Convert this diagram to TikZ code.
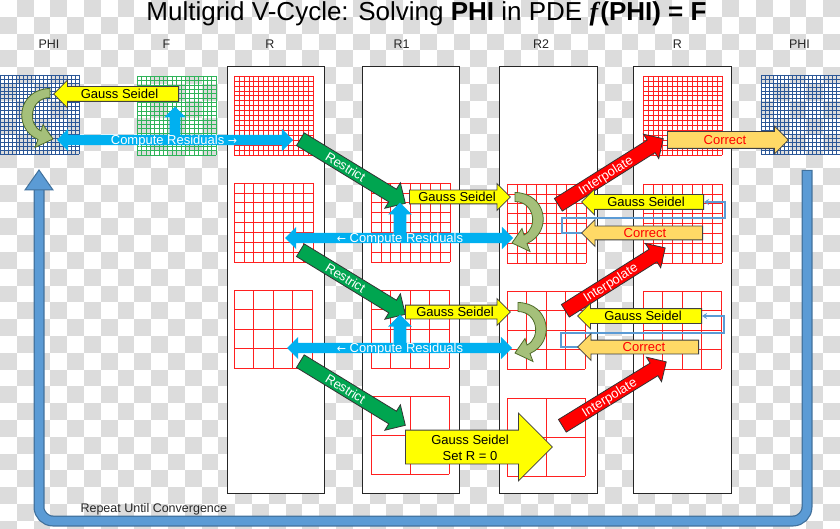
\documentclass[tikz,border=0pt]{standalone}
\usepackage{fontspec}
\setmainfont{Liberation Sans}
\newfontfamily\serifbi{Liberation Serif}
\newfontfamily\dejavu{DejaVu Sans}
\usetikzlibrary{shapes.arrows,arrows.meta,calc}
\definecolor{checkgray}{HTML}{DCDCDC}
\definecolor{gsyellow}{HTML}{FFFF00}
\definecolor{corange}{HTML}{FFD966}
\definecolor{crblue}{HTML}{00B0F0}
\definecolor{rgreen}{HTML}{00A550}
\definecolor{ired}{HTML}{FF0000}
\definecolor{phiblue}{HTML}{2B5797}
\definecolor{fgreen}{HTML}{30B45A}
\definecolor{gridred}{HTML}{FF2020}
\definecolor{loopblue}{HTML}{5B9BD5}
\definecolor{loopedge}{HTML}{41719C}
\definecolor{curvefill}{HTML}{A5C07A}
\definecolor{curveedge}{HTML}{4F6B2A}
\definecolor{arrowedge}{HTML}{404040}
\tikzset{
  gridline/.style={line width=0.7pt},
  finegrid/.style={line width=0.55pt},
  colbox/.style={draw=black!85, fill=white, line width=1pt},
  blk/.style={single arrow, inner xsep=0pt, single arrow tip angle=90, minimum width=0pt, line width=0.8pt},
  dblk/.style={double arrow, inner xsep=0pt, double arrow tip angle=90, minimum width=0pt, fill=crblue, draw=none},
  gsarrow/.style={blk, fill=gsyellow, draw=arrowedge},
  corarrow/.style={blk, fill=corange, draw=arrowedge},
  resarrow/.style={blk, fill=rgreen, draw=black!80},
  intarrow/.style={blk, fill=ired, draw=black!80},
  uparrow/.style={blk, fill=crblue, draw=none},
  curvestyle/.style={fill=curvefill, draw=curveedge, line width=0.8pt},
  lbl/.style={font=\fontsize{12.5}{15}\selectfont, text=black!85},
  atext/.style={font=\fontsize{13}{15}\selectfont, inner sep=0pt, text height=9.3pt, text depth=0pt},
  wtext/.style={atext, text=white},
  rtext/.style={atext, text=red},
  loopline/.style={draw=loopblue, line width=1.3pt, -{Stealth[length=5pt,width=6pt]}},
}
\newcommand\sqgrid[6]{%
  \foreach \k in {0,...,#4}{%
    \draw[#6,#5] ({#1+\k*#3/#4},#2) -- ++(0,#3);
    \draw[#6,#5] (#1,{#2+\k*#3/#4}) -- ++(#3,0);
  }}
\newcommand\bendarrow[1]{%
  \begin{scope}[#1]
    \draw[curvestyle] (50,88.5) .. controls (18,89) and (12,128) .. (38,139.5)
      -- (35,147.5) -- (53,139) -- (43,124.5) -- (41,131)
      .. controls (27,124) and (30,98) .. (50,97.5) -- cycle;
  \end{scope}}
\begin{document}
\begin{tikzpicture}[x=1pt,y=-1pt]
\useasboundingbox (0,0) rectangle (840,529);
% checkerboard background
\begin{scope}
  \clip (0,0) rectangle (840,529);
  \fill[white] (0,0) rectangle (840,529);
  \foreach \i in {0,...,49}{%
    \foreach \j in {0,...,31}{%
      \pgfmathtruncatemacro\chk{mod(\i+\j,2)}%
      \ifnum\chk=1 \fill[checkgray] ({\i*16.8},{\j*16.8}) rectangle ++(16.8,16.8);\fi
    }}
\end{scope}

% title and column labels
\node[anchor=base, font=\fontsize{26}{30}\selectfont] (title) at (426.5,20.5)
  {Multigrid V-Cycle: Solving \textbf{PHI} in PDE {\serifbi\bfseries\itshape f}\textbf{(PHI) = F}};
\node[lbl, anchor=base] (lphia) at (49,49) {PHI};
\node[lbl, anchor=base] (lf) at (166.5,49) {F};
\node[lbl, anchor=base] (lr) at (270,49) {R};
\node[lbl, anchor=base] (lr1) at (401.5,49) {R1};
\node[lbl, anchor=base] (lr2) at (541,49) {R2};
\node[lbl, anchor=base] (lrb) at (677.5,49) {R};
\node[lbl, anchor=base] (lphib) at (799.5,49) {PHI};

% column boxes
\draw[colbox] (227,67) rectangle (324,493);
\draw[colbox] (362,67) rectangle (459,493);
\draw[colbox] (499,67) rectangle (597,493);
\draw[colbox] (633,67) rectangle (731,493);

% grids
\sqgrid{0}{75}{79}{20}{phiblue}{finegrid}
\sqgrid{137}{76}{79}{18}{fgreen}{finegrid}
\sqgrid{234}{76}{79}{16}{gridred}{finegrid}
\sqgrid{643}{76}{79}{16}{gridred}{finegrid}
\sqgrid{761}{75}{79}{20}{phiblue}{finegrid}
\sqgrid{234}{183}{79}{8}{gridred}{gridline}
\sqgrid{371}{183}{79}{8}{gridred}{gridline}
\sqgrid{507}{184}{79}{8}{gridred}{gridline}
\sqgrid{643}{184}{79}{8}{gridred}{gridline}
\sqgrid{234}{290}{78}{4}{gridred}{gridline}
\sqgrid{371}{290}{78}{4}{gridred}{gridline}
\sqgrid{507}{291}{78}{4}{gridred}{gridline}
\sqgrid{643}{291}{78}{4}{gridred}{gridline}
\sqgrid{371}{396}{78}{2}{gridred}{gridline}
\sqgrid{507}{398}{78}{2}{gridred}{gridline}

% big repeat loop
\coordinate (loopstart) at (807,170);
\coordinate (loopend) at (39,189);
\draw[line width=11pt, loopedge, rounded corners=14pt] (loopstart) -- (807,521) -- (39,521) -- (loopend);
\draw[line width=8.5pt, loopblue, rounded corners=14pt] ($(loopstart)+(0,1.2)$) -- (807,521) -- (39,521) -- ($(loopend)+(0,-1)$);
\draw[fill=loopblue, draw=loopedge, line width=1pt] (25,190) -- (39,170) -- (53,190) -- cycle;
\node[lbl, anchor=base west] (rep) at (77,512.5) {Repeat Until Convergence};

% ---------- top row ----------
\bendarrow{}
\node[gsarrow, inner ysep=7pt, single arrow head extend=6.5pt, minimum height=125pt, rotate=180, anchor=tail] (gs1) at (179,94) {};
\node[atext] (gs1t) at (119.5,94) {Gauss Seidel};

\node[uparrow, inner ysep=5pt, single arrow head extend=5.5pt, minimum height=33pt, rotate=90, anchor=tail] (up1) at (175,140) {};
\node[dblk, inner ysep=5pt, double arrow head extend=6pt, minimum height=236pt] (cr1) at (175,140) {};
\node[wtext] (cr1t) at (174,140) {Compute Residuals {\dejavu\fontsize{11}{13}\selectfont →}};

\node[resarrow, inner ysep=7pt, single arrow head extend=7.5pt, minimum height=123pt, rotate=-31.4, anchor=tail] (rs1) at (300,139) {};
\path (rs1.tail) -- (rs1.tip) node[wtext, pos=0.43, sloped] (rs1t) {Restrict};

\node[intarrow, inner ysep=7pt, single arrow head extend=7pt, minimum height=124pt, rotate=32.2, anchor=tail] (ip1) at (558,205) {};
\path (ip1.tail) -- (ip1.tip) node[wtext, pos=0.45, sloped] (ip1t) {Interpolate};

\node[corarrow, inner ysep=8pt, single arrow head extend=5.5pt, minimum height=121pt, anchor=tail] (cor1) at (667,140) {};
\node[rtext] (cor1t) at (725,140) {Correct};

% ---------- middle row ----------
\node[uparrow, inner ysep=6pt, single arrow head extend=5.5pt, minimum height=35pt, rotate=90, anchor=tail] (up2) at (400,238) {};
\node[dblk, inner ysep=5pt, double arrow head extend=6pt, minimum height=228pt] (cr2) at (399,238) {};
\node[wtext] (cr2t) at (400,238) {{\dejavu\fontsize{11}{13}\selectfont ←} Compute Residuals};

\node[gsarrow, inner ysep=6.5pt, single arrow head extend=6.5pt, minimum height=101pt, anchor=tail] (gs2) at (409,197) {};
\node[atext] (gs2t) at (457,197) {Gauss Seidel};

\bendarrow{shift={(565,104)},xscale=-1}

\draw[loopline] (582,233) -- ++(-20,0) |- (725,218) |- (704,202);
\node[gsarrow, inner ysep=7pt, single arrow head extend=5.5pt, minimum height=122pt, rotate=180, anchor=tail] (gs4) at (704,202) {};
\node[atext] (gs4t) at (646,202) {Gauss Seidel};
\node[corarrow, inner ysep=6.5pt, single arrow head extend=6.5pt, minimum height=121pt, rotate=180, anchor=tail] (cor2) at (703,233) {};
\node[rtext] (cor2t) at (645,233) {Correct};

\node[resarrow, inner ysep=7pt, single arrow head extend=7.5pt, minimum height=123pt, rotate=-31.4, anchor=tail] (rs2) at (300,250) {};
\path (rs2.tail) -- (rs2.tip) node[wtext, pos=0.43, sloped] (rs2t) {Restrict};

\node[intarrow, inner ysep=7pt, single arrow head extend=7pt, minimum height=118pt, rotate=32.2, anchor=tail] (ip2) at (565,311) {};
\path (ip2.tail) -- (ip2.tip) node[wtext, pos=0.45, sloped] (ip2t) {Interpolate};

% ---------- bottom row ----------
\node[uparrow, inner ysep=6pt, single arrow head extend=5.5pt, minimum height=33pt, rotate=90, anchor=tail] (up3) at (400,348) {};
\node[dblk, inner ysep=5pt, double arrow head extend=6pt, minimum height=225pt] (cr3) at (399.5,348) {};
\node[wtext] (cr3t) at (400,348) {{\dejavu\fontsize{11}{13}\selectfont ←} Compute Residuals};

\node[gsarrow, inner ysep=6.5pt, single arrow head extend=6.5pt, minimum height=105pt, anchor=tail] (gs3) at (405,312) {};
\node[atext] (gs3t) at (455,312) {Gauss Seidel};

\bendarrow{shift={(568,214)},xscale=-1}

\draw[loopline] (578,347) -- ++(-17,0) |- (724,333) |- (702,316);
\node[gsarrow, inner ysep=7pt, single arrow head extend=5.5pt, minimum height=124pt, rotate=180, anchor=tail] (gs5) at (702,316) {};
\node[atext] (gs5t) at (643,316) {Gauss Seidel};
\node[corarrow, inner ysep=6.5pt, single arrow head extend=6.5pt, minimum height=121pt, rotate=180, anchor=tail] (cor3) at (699,347) {};
\node[rtext] (cor3t) at (644,347) {Correct};

\node[resarrow, inner ysep=7pt, single arrow head extend=7.5pt, minimum height=123pt, rotate=-31.4, anchor=tail] (rs3) at (300,361) {};
\path (rs3.tail) -- (rs3.tip) node[wtext, pos=0.43, sloped] (rs3t) {Restrict};

\node[intarrow, inner ysep=7pt, single arrow head extend=7pt, minimum height=122pt, rotate=31.6, anchor=tail] (ip3) at (562,426) {};
\path (ip3.tail) -- (ip3.tip) node[wtext, pos=0.45, sloped] (ip3t) {Interpolate};

% ---------- coarsest ----------
\node[gsarrow, inner ysep=16.5pt, single arrow head extend=17pt, minimum height=147pt, anchor=tail] (gs6) at (405,447) {};
\node[font=\fontsize{13}{15.5}\selectfont, align=center, inner sep=0pt] (gs6t) at (470,448) {Gauss Seidel\\Set R = 0};
\end{tikzpicture}
\end{document}
